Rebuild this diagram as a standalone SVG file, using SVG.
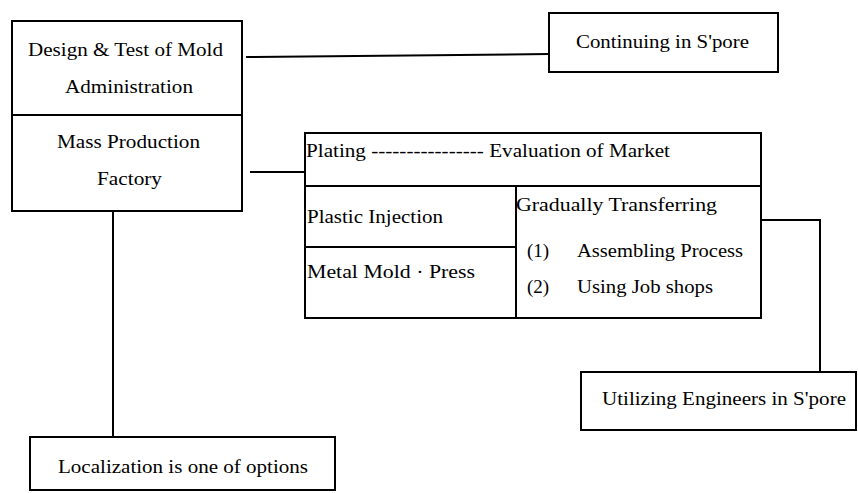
<svg xmlns="http://www.w3.org/2000/svg" width="858" height="493" viewBox="0 0 858 493">
<style>
.box{fill:#fff;stroke:#000;stroke-width:2}
.ln{fill:none;stroke:#000;stroke-width:2}
text{font-family:"Liberation Serif","Times New Roman",serif;font-size:19px;fill:#000}
</style>
<rect width="858" height="493" fill="#fff"/>
<g id="connectors">
<path class="ln" d="M246 57 L549 54"/>
<path class="ln" d="M250 172 L305 172"/>
<path class="ln" d="M113 211 L113 437"/>
<path class="ln" d="M762 220 L820 220 L820 372"/>
</g>
<g id="mold-admin-factory">
<rect class="box" x="12" y="21" width="230" height="190"/>
<path class="ln" d="M12 115 L242 115"/>
<text x="28" y="56" textLength="195" lengthAdjust="spacingAndGlyphs">Design &amp; Test of Mold</text>
<text x="65" y="93" textLength="128" lengthAdjust="spacingAndGlyphs">Administration</text>
<text x="57" y="148" textLength="143" lengthAdjust="spacingAndGlyphs">Mass Production</text>
<text x="97" y="185" textLength="65" lengthAdjust="spacingAndGlyphs">Factory</text>
</g>
<g id="continuing">
<rect class="box" x="549" y="13" width="229" height="59"/>
<text x="576" y="48" textLength="173" lengthAdjust="spacingAndGlyphs">Continuing in S'pore</text>
</g>
<g id="processes">
<rect class="box" x="305" y="133" width="456" height="185"/>
<path class="ln" d="M305 186 L761 186 M516 186 L516 318 M305 247 L516 247"/>
<text x="306" y="157" textLength="364" lengthAdjust="spacingAndGlyphs">Plating ---------------- Evaluation of Market</text>
<text x="307" y="223" textLength="136" lengthAdjust="spacingAndGlyphs">Plastic Injection</text>
<text x="307" y="278" textLength="168" lengthAdjust="spacingAndGlyphs">Metal Mold · Press</text>
<text x="516" y="211" textLength="201" lengthAdjust="spacingAndGlyphs">Gradually Transferring</text>
<text x="527" y="257">(1)</text>
<text x="577" y="257" textLength="166" lengthAdjust="spacingAndGlyphs">Assembling Process</text>
<text x="527" y="293">(2)</text>
<text x="577" y="293" textLength="136" lengthAdjust="spacingAndGlyphs">Using Job shops</text>
</g>
<g id="utilizing">
<rect class="box" x="581" y="372" width="275" height="58"/>
<text x="602" y="405" textLength="244" lengthAdjust="spacingAndGlyphs">Utilizing Engineers in S'pore</text>
</g>
<g id="localization">
<rect class="box" x="30" y="437" width="305" height="53"/>
<text x="58" y="473" textLength="250" lengthAdjust="spacingAndGlyphs">Localization is one of options</text>
</g>
</svg>
